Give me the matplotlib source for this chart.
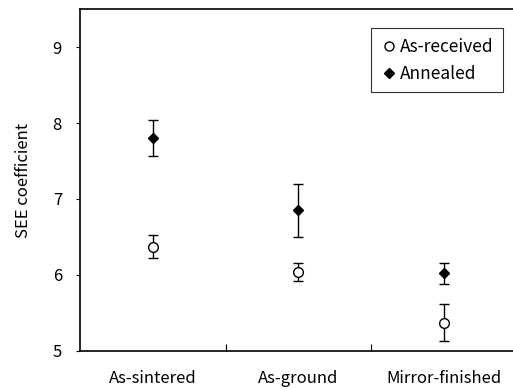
import numpy as np
import matplotlib.pyplot as plt
from matplotlib.lines import Line2D

plt.rcParams['font.family'] = ['Noto Sans CJK JP', 'DejaVu Sans']

categories = ['As-sintered', 'As-ground', 'Mirror-finished']
received = [6.37, 6.04, 5.37]
received_err = [0.15, 0.12, 0.245]
annealed = [7.80, 6.85, 6.02]
annealed_err = [0.24, 0.35, 0.14]

x = np.arange(len(categories)) + 0.5

fig = plt.figure(figsize=(5.13, 3.9), dpi=100)
ax = fig.add_axes([0.156, 0.101, 0.851, 0.875])

ax.errorbar(x, received, yerr=received_err, fmt='o', mfc='white', mec='black',
            ms=7, mew=1.0, ecolor='black', elinewidth=1.0, capsize=3.6,
            capthick=1.0, zorder=3)
ax.errorbar(x, annealed, yerr=annealed_err, fmt='D', mfc='black', mec='black',
            ms=5.5, ecolor='black', elinewidth=1.0, capsize=3.6,
            capthick=1.0, zorder=3)

ax.set_xlim(0, 3)
ax.set_ylim(5, 9.5)
ax.set_yticks([5, 6, 7, 8, 9])
ax.set_xticks([1, 2])
ax.set_xticklabels([])
ax.set_xticks(x, minor=True)
ax.set_xticklabels(categories, minor=True)
ax.tick_params(axis='x', which='major', direction='in', length=5, width=0.8)
ax.tick_params(axis='x', which='minor', length=0, pad=14, labelsize=12)
ax.tick_params(axis='y', direction='out', length=3, width=0.8, pad=10, labelsize=12)
for s in ax.spines.values():
    s.set_linewidth(1.2)
ax.spines['right'].set_visible(False)

ax.set_ylabel('SEE coefficient', fontsize=12, labelpad=15)

handles = [
    Line2D([], [], ls='none', marker='o', mfc='white', mec='black', ms=6.5, mew=1.0),
    Line2D([], [], ls='none', marker='D', mfc='black', mec='black', ms=5.5),
]
leg = ax.legend(handles, ['As-received', 'Annealed'], loc='upper left',
                bbox_to_anchor=(0.666, 0.944), frameon=True,
                fancybox=False, edgecolor='black', fontsize=12.5,
                handletextpad=0.15, handlelength=1.0, borderpad=0.55,
                labelspacing=0.5, borderaxespad=0)
leg.get_frame().set_linewidth(0.8)

fig.savefig('out.png', dpi=100)
